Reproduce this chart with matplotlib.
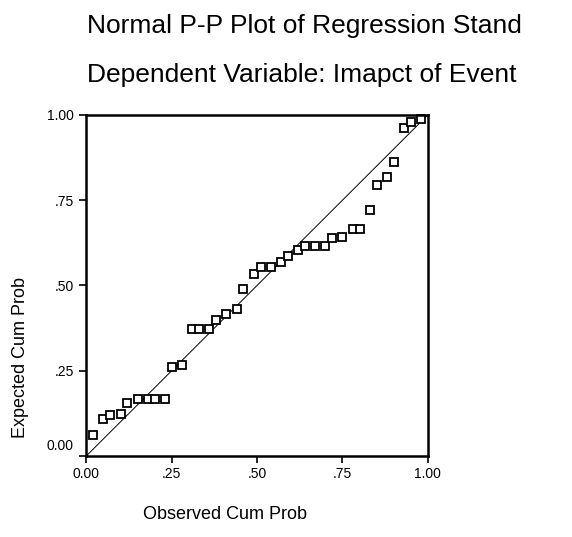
import matplotlib
matplotlib.use("Agg")
import matplotlib.pyplot as plt
import matplotlib.transforms as mtransforms

plt.rcParams['font.family'] = ['Liberation Sans', 'DejaVu Sans']

# observed vs expected cumulative probabilities of the standardized residuals
observed = [0.02, 0.05, 0.07, 0.10, 0.12, 0.15, 0.18, 0.20, 0.23, 0.25,
            0.28, 0.31, 0.33, 0.36, 0.38, 0.41, 0.44, 0.46, 0.49, 0.51,
            0.54, 0.57, 0.59, 0.62, 0.64, 0.67, 0.70, 0.72, 0.75, 0.78,
            0.80, 0.83, 0.85, 0.88, 0.90, 0.93, 0.95, 0.98]
expected = [0.060, 0.108, 0.121, 0.124, 0.155, 0.167, 0.167, 0.167, 0.167, 0.261,
            0.266, 0.372, 0.372, 0.372, 0.399, 0.416, 0.432, 0.489, 0.533, 0.553,
            0.553, 0.570, 0.587, 0.604, 0.616, 0.616, 0.616, 0.639, 0.643, 0.665,
            0.665, 0.720, 0.794, 0.817, 0.861, 0.963, 0.979, 0.989]

ticks = [0, 0.25, 0.5, 0.75, 1.0]
tick_labels = ['0.00', '.25', '.50', '.75', '1.00']

fig = plt.figure(figsize=(5.72, 5.37), dpi=100)
ax = fig.add_axes([0.151, 0.151, 0.597, 0.635])

ax.plot([0, 1], [0, 1], color='black', lw=0.7)
ax.plot(observed, expected, linestyle='none', marker='s', markersize=5.3,
        markerfacecolor='white', markeredgecolor='black', markeredgewidth=1.3,
        clip_on=False)

ax.set_xlim(0, 1)
ax.set_ylim(0, 1)
ax.set_xticks(ticks)
ax.set_xticklabels(tick_labels)
ax.set_yticks(ticks)
ax.set_yticklabels(tick_labels)
ax.tick_params(direction='out', length=5, width=1.2, labelsize=10)
ax.tick_params(axis='y', pad=4)
ax.tick_params(axis='x', pad=3)
for s in ax.spines.values():
    s.set_linewidth(1.8)

# nudge the bottom y label up so it clears the x axis label
lab0 = ax.get_yticklabels()[0]
lab0.set_transform(lab0.get_transform() +
                   mtransforms.ScaledTranslation(0, 8 / 72, fig.dpi_scale_trans))

fig.text(0.152, 0.938, 'Normal P-P Plot of Regression Stand', fontsize=19,
         ha='left', va='baseline')
fig.text(0.152, 0.847, 'Dependent Variable: Imapct of Event', fontsize=19,
         ha='left', va='baseline')
fig.text(0.035, 0.335, 'Expected Cum Prob', fontsize=13, rotation=90,
         ha='center', va='center')
fig.text(0.25, 0.041, 'Observed Cum Prob', fontsize=13, ha='left', va='center')

fig.savefig('out.png', dpi=100)
